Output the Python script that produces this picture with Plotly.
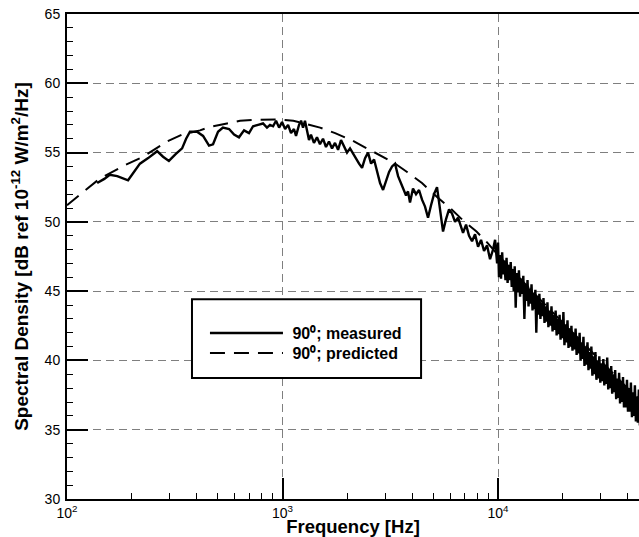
import plotly.graph_objects as go

# ---------------- data ----------------
meas_freq = [138, 149, 158, 171, 192, 205, 218, 238, 262, 279,
             297, 320, 342, 357, 372, 401, 428, 456, 476, 502,
             529, 565, 596, 628, 663, 699, 730, 770, 812, 847,
             875, 904, 933, 964, 995, 1028, 1061, 1095, 1130, 1155,
             1193, 1219, 1245, 1271, 1300, 1327, 1355, 1399, 1445, 1492,
             1541, 1591, 1643, 1697, 1752, 1810, 1868, 1929, 1992, 2057,
             2124, 2193, 2265, 2339, 2415, 2494, 2575, 2659, 2746, 2835,
             2928, 3023, 3122, 3223, 3328, 3437, 3549, 3624, 3742, 3821,
             3904, 4031, 4163, 4299, 4439, 4583, 4733, 4887, 5046, 5210,
             5380, 5556, 5737, 5924, 6117, 6316, 6522, 6734, 6880, 7105,
             7336, 7575, 7822, 8077, 8340, 8611, 8892, 9181, 9480, 9688,
             9900,
             10000, 10100, 10200, 10325, 10450, 10575, 10700, 10825, 10950, 11075,
             11200, 11325, 11450, 11575, 11700, 11825, 11950, 12075, 12200, 12350,
             12500, 12650, 12800, 12950, 13100, 13250, 13400, 13550, 13700, 13850,
             14000, 14150, 14300, 14450, 14600, 14750, 14900, 15050, 15200, 15375,
             15550, 15725, 15900, 16075, 16250, 16425, 16600, 16775, 16950, 17125,
             17300, 17500, 17700, 17900, 18100, 18300, 18500, 18700, 18900, 19100,
             19300, 19500, 19700, 19900, 20100, 20325, 20550, 20775, 21000, 21225,
             21450, 21675, 21900, 22150, 22400, 22650, 22900, 23150, 23400, 23650,
             23900, 24150, 24400, 24650, 24900, 25175, 25450, 25725, 26000, 26275,
             26550, 26825, 27100, 27400, 27700, 28000, 28300, 28600, 28900, 29200,
             29500, 29825, 30150, 30475, 30800, 31125, 31450, 31775, 32100, 32450,
             32800, 33150, 33500, 33850, 34200, 34575, 34950, 35325, 35700, 36075,
             36450, 36825, 37200, 37600, 38000, 38400, 38800, 39225, 39650, 40075,
             40500, 40925, 41350, 41800, 42250, 42700, 43150, 43600, 44050, 44525,
             45000, 45500, 46000]

meas_db = [52.8, 53.1, 53.4, 53.3, 53.0, 53.6, 54.2, 54.6, 55.1, 54.7,
           54.4, 54.9, 55.3, 56.0, 56.5, 56.5, 56.2, 55.5, 55.6, 56.5,
           56.8, 56.7, 56.3, 56.1, 56.6, 56.4, 56.9, 57.0, 57.1, 56.8,
           57.0, 56.9, 57.3, 56.8, 57.2, 56.7, 57.0, 56.4, 56.7, 56.2,
           57.0, 57.3, 56.8, 57.3, 56.5, 55.9, 56.3, 55.7, 56.1, 55.6,
           56.0, 55.4, 55.8, 55.3, 55.7, 55.2, 55.9, 55.4, 55.0, 55.3,
           54.9, 54.6, 54.2, 53.9, 54.6, 55.0, 54.2, 54.5, 53.7, 52.8,
           52.3, 53.0, 53.6, 54.0, 54.2, 53.3, 52.8, 52.4, 51.9, 52.2,
           51.4, 52.4, 52.0, 52.3, 51.6, 51.1, 50.3, 51.2, 52.0, 52.5,
           51.0, 49.3, 50.2, 50.9, 50.6, 50.0, 50.3, 49.6, 49.2, 49.8,
           49.0, 48.6, 49.1, 48.2, 48.7, 47.9, 48.3, 47.3, 48.0, 48.7,
           47.0,
           48.5, 46.0, 47.6, 45.9, 47.8, 46.2, 47.2, 45.8, 47.4, 45.6,
           46.9, 45.8, 47.1, 45.3, 46.6, 45.0, 46.8, 43.8, 46.3, 44.9,
           46.5, 44.6, 45.9, 44.8, 46.1, 43.0, 45.5, 44.3, 45.8, 43.9,
           45.2, 44.1, 45.5, 43.6, 44.9, 43.7, 45.1, 42.0, 44.6, 43.3,
           44.8, 43.0, 44.2, 43.2, 44.5, 42.7, 43.9, 42.8, 44.2, 42.4,
           43.6, 42.5, 43.9, 42.1, 43.3, 42.2, 43.6, 41.8, 43.0, 41.9,
           43.3, 41.5, 42.8, 41.6, 43.5, 41.1, 42.6, 41.3, 42.9, 40.9,
           42.3, 41.0, 42.5, 40.7, 42.0, 40.8, 42.3, 40.4, 41.7, 40.5,
           42.0, 40.0, 41.3, 40.1, 41.7, 39.6, 41.0, 39.7, 41.3, 39.3,
           40.6, 39.4, 41.0, 38.9, 40.3, 39.0, 40.6, 38.6, 40.0, 38.7,
           40.3, 38.4, 39.8, 38.5, 40.1, 38.2, 39.6, 38.3, 40.2, 37.9,
           39.3, 38.0, 39.6, 37.6, 39.0, 37.7, 39.3, 37.2, 38.7, 37.3,
           39.1, 36.9, 38.5, 37.0, 38.8, 36.6, 38.2, 36.6, 38.6, 36.3,
           38.0, 36.3, 38.4, 35.9, 37.7, 36.0, 38.2, 35.6, 37.4, 35.5,
           37.9, 35.3, 37.2]

pred_freq = [100, 117.5, 141.3, 185.8, 211.3, 225.4, 291.1, 342.0, 414.0, 461.3,
             552.1, 635.3, 729.5, 847.2, 952.8, 1122, 1259, 1493, 1754, 2089,
             2399, 2773, 3258, 3784, 4436, 5212, 5984, 6887, 7943, 8913,
             10000, 14555, 20893, 29717, 42267, 46774]
pred_db = [51.2, 52.1, 53.1, 54.1, 54.5, 54.7, 55.8, 56.3, 56.6, 56.85,
           57.1, 57.3, 57.35, 57.4, 57.4, 57.3, 57.1, 56.8, 56.4, 55.9,
           55.4, 54.9, 54.3, 53.6, 52.8, 51.8, 51.0, 50.1, 49.3, 48.5,
           47.6, 44.9, 42.4, 40.0, 37.6, 37.0]

series_names = ["\u00a090\u2070; measured", "\u00a090\u2070; predicted"]
x_tick_vals = [100, 1000, 10000]
x_tick_text = ["10<sup>2</sup>", "10<sup>3</sup>", "10<sup>4</sup>"]
x_title = "Frequency [Hz]"
y_title = "Spectral Density [dB ref 10<sup>-12</sup> W/m<sup>2</sup>/Hz]"

# ---------------- figure ----------------
FONT = "Liberation Sans, Arial, sans-serif"
LEG_FONT = dict(family=FONT, size=16, weight="bold", color="black")

fig = go.Figure()
fig.add_trace(go.Scatter(x=pred_freq, y=pred_db, mode="lines", name=series_names[1],
                         legend="legend2",
                         line=dict(color="black", width=2, dash="15px,9px")))
fig.add_trace(go.Scatter(x=meas_freq, y=meas_db, mode="lines", name=series_names[0],
                         legend="legend",
                         line=dict(color="black", width=2.4)))

fig.update_layout(
    width=639, height=537,
    margin=dict(l=67, r=0, t=14, b=38, pad=0),
    paper_bgcolor="white", plot_bgcolor="white",
    font=dict(family=FONT, color="black", size=14),
    showlegend=True,
    legend=dict(x=0.2412, y=0.377, xanchor="left", yanchor="top",
                bgcolor="rgba(0,0,0,0)", borderwidth=0, itemwidth=73, font=LEG_FONT),
    legend2=dict(x=0.2412, y=0.3358, xanchor="left", yanchor="top",
                 bgcolor="rgba(0,0,0,0)", borderwidth=0, itemwidth=73, font=LEG_FONT),
    shapes=[dict(type="rect", xref="paper", yref="paper",
                 x0=0.2185, x1=0.619, y0=0.2495, y1=0.412,
                 line=dict(color="black", width=2), fillcolor="white", layer="above")],
)

fig.update_xaxes(
    type="log", range=[2, 4.654], automargin=False,
    showline=True, linecolor="black", linewidth=2, mirror=True,
    ticks="inside", ticklen=21, tickwidth=2, tickcolor="black",
    tickvals=x_tick_vals, ticktext=x_tick_text,
    tickfont=dict(family=FONT, size=14, color="black"),
    showgrid=True, gridcolor="#7f7f7f", gridwidth=1, griddash="8px,5px",
    minor=dict(ticks="inside", ticklen=6, tickwidth=1, tickcolor="black",
               dtick="D1", showgrid=False),
    zeroline=False,
    title=dict(text=x_title, font=dict(family=FONT, size=18.5, weight="bold"), standoff=0),
)
fig.update_yaxes(
    range=[30, 65], dtick=5, tick0=30, automargin=False,
    showline=True, linecolor="black", linewidth=2, mirror=False,
    ticks="inside", ticklen=21, tickwidth=2, tickcolor="black",
    tickfont=dict(family=FONT, size=14, color="black"),
    ticklabelstandoff=2,
    showgrid=True, gridcolor="#7f7f7f", gridwidth=1, griddash="8px,5px",
    minor=dict(ticks="inside", ticklen=6, tickwidth=1, tickcolor="black",
               dtick=1, showgrid=False),
    zeroline=False,
    title=dict(text=y_title, font=dict(family=FONT, size=19, weight="bold"), standoff=11),
)

# remove the browser's default 8px body margin so the figure sits at the page origin
fig.write_html("out.html", config={"displayModeBar": False},
               post_script="document.body.style.margin='0';")
